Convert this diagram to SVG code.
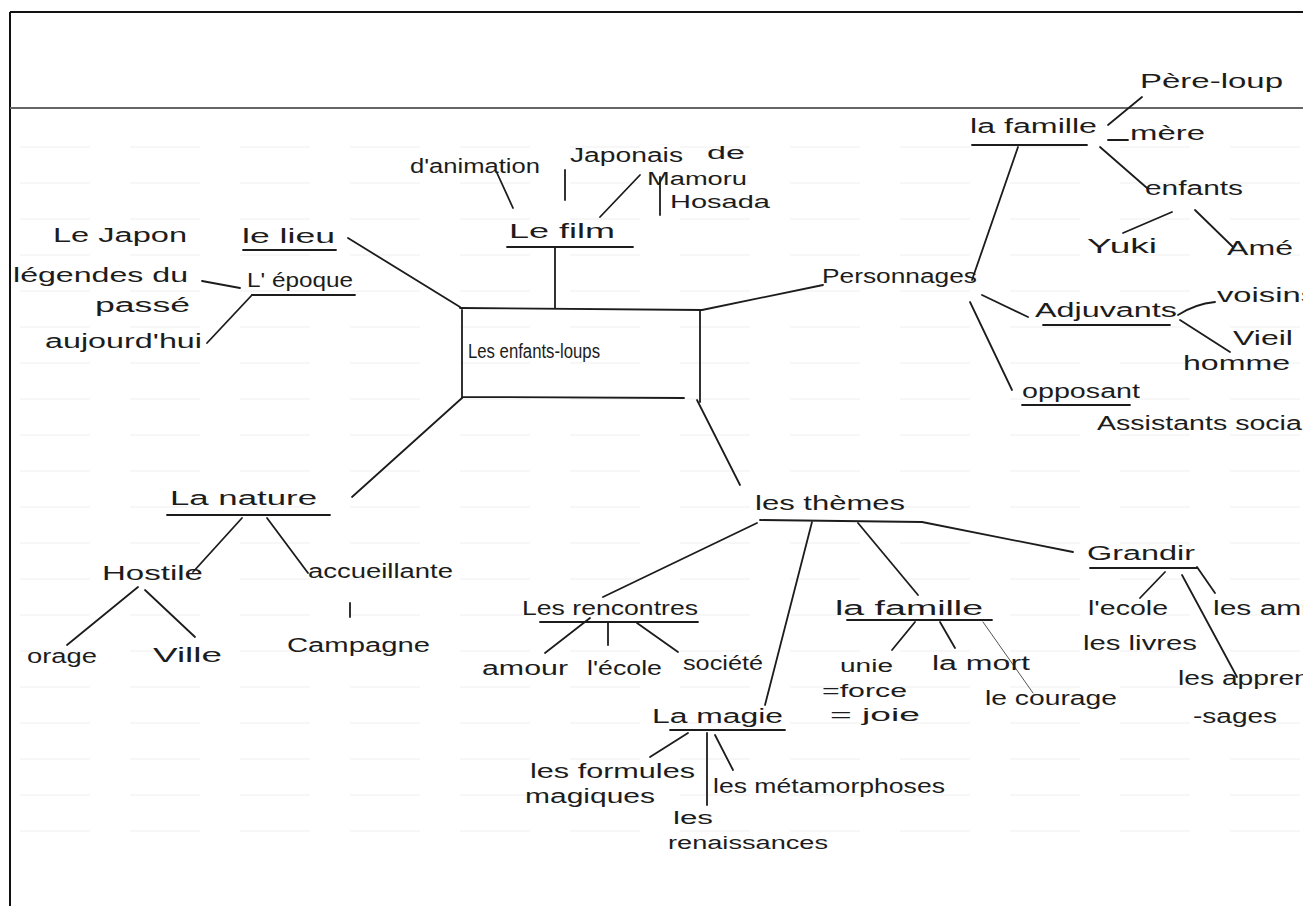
<svg xmlns="http://www.w3.org/2000/svg" width="1303" height="906" viewBox="0 0 1303 906">
<style>
.t{font-family:"Liberation Sans","DejaVu Sans",sans-serif;font-size:20px;fill:#1c1c1c}
.s{font-size:18px}
.ln{stroke:#1c1c1c;stroke-width:1.8;fill:none;stroke-linecap:round}
.thin{stroke:#555;stroke-width:1;fill:none}
.rule{stroke:#f0f0f0;stroke-width:1.2;stroke-dasharray:70 40}
</style>
<rect width="1303" height="906" fill="#fff"/>
<g id="paper">
<g class="rule">
<line x1="20" y1="147" x2="1303" y2="147"/><line x1="20" y1="183" x2="1303" y2="183"/><line x1="20" y1="219" x2="1303" y2="219"/><line x1="20" y1="255" x2="1303" y2="255"/><line x1="20" y1="291" x2="1303" y2="291"/><line x1="20" y1="327" x2="1303" y2="327"/><line x1="20" y1="363" x2="1303" y2="363"/><line x1="20" y1="399" x2="1303" y2="399"/><line x1="20" y1="435" x2="1303" y2="435"/><line x1="20" y1="471" x2="1303" y2="471"/><line x1="20" y1="507" x2="1303" y2="507"/><line x1="20" y1="543" x2="1303" y2="543"/><line x1="20" y1="579" x2="1303" y2="579"/><line x1="20" y1="615" x2="1303" y2="615"/><line x1="20" y1="651" x2="1303" y2="651"/><line x1="20" y1="687" x2="1303" y2="687"/><line x1="20" y1="723" x2="1303" y2="723"/><line x1="20" y1="759" x2="1303" y2="759"/><line x1="20" y1="795" x2="1303" y2="795"/><line x1="20" y1="831" x2="1303" y2="831"/>
</g>
<line x1="10" y1="12" x2="1303" y2="12" stroke="#111" stroke-width="2"/>
<line x1="10" y1="12" x2="10" y2="906" stroke="#111" stroke-width="2"/>
<line x1="10" y1="108" x2="1303" y2="108" stroke="#666" stroke-width="2"/>
</g>
<g id="connectors" class="ln">
<line x1="555" y1="308" x2="555" y2="248"/>
<line x1="497" y1="173" x2="513" y2="208"/>
<line x1="565" y1="170" x2="565" y2="200"/>
<line x1="640" y1="175" x2="600" y2="217"/>
<line x1="660" y1="177" x2="660" y2="215"/>
<line x1="348" y1="238" x2="460" y2="307"/>
<line x1="202" y1="281" x2="240" y2="288"/>
<line x1="207" y1="343" x2="252" y2="295"/>
<line x1="702" y1="310" x2="823" y2="285"/>
<line x1="972" y1="280" x2="1018" y2="147"/>
<line x1="1108" y1="125" x2="1142" y2="97"/>
<line x1="1108" y1="140" x2="1128" y2="140"/>
<line x1="1100" y1="147" x2="1147" y2="188"/>
<line x1="1172" y1="212" x2="1123" y2="233"/>
<line x1="1195" y1="210" x2="1233" y2="247"/>
<line x1="982" y1="295" x2="1028" y2="317"/>
<path d="M1178 315 Q1195 304 1215 302"/>
<line x1="1180" y1="320" x2="1230" y2="352"/>
<line x1="970" y1="302" x2="1012" y2="390"/>
<line x1="462" y1="398" x2="352" y2="497"/>
<line x1="242" y1="518" x2="193" y2="572"/>
<line x1="267" y1="518" x2="308" y2="573"/>
<line x1="350" y1="603" x2="350" y2="617"/>
<line x1="138" y1="587" x2="67" y2="645"/>
<line x1="145" y1="590" x2="195" y2="637"/>
<line x1="697" y1="400" x2="740" y2="485"/>
<line x1="757" y1="523" x2="603" y2="597"/>
<line x1="590" y1="618" x2="545" y2="653"/>
<line x1="608" y1="622" x2="608" y2="645"/>
<line x1="637" y1="623" x2="678" y2="652"/>
<line x1="812" y1="522" x2="765" y2="705"/>
<line x1="858" y1="523" x2="918" y2="595"/>
<line x1="922" y1="522" x2="1073" y2="552"/>
<line x1="688" y1="733" x2="650" y2="757"/>
<line x1="707" y1="733" x2="707" y2="805"/>
<line x1="715" y1="735" x2="733" y2="770"/>
<line x1="915" y1="622" x2="892" y2="650"/>
<line x1="940" y1="622" x2="955" y2="648"/>
<line x1="1165" y1="572" x2="1140" y2="598"/>
<line x1="1182" y1="575" x2="1237" y2="677"/>
<line x1="1197" y1="567" x2="1215" y2="593"/>
<line class="thin" x1="983" y1="622" x2="1033" y2="693"/>
</g>
<g id="n-center">
<path class="ln" d="M460 308 L702 310 M462 308 L462 398 M700 310 L700 402 M462 397 L684 398"/>
<text class="t" x="468" y="358" textLength="132" lengthAdjust="spacingAndGlyphs">Les enfants-loups</text>
</g>
<g id="n-film"><text class="t" x="509" y="238" textLength="106" lengthAdjust="spacingAndGlyphs">Le film</text><line class="ln" x1="507" y1="247" x2="633" y2="247"/></g>
<g id="n-animation"><text class="t" x="410" y="173" textLength="130" lengthAdjust="spacingAndGlyphs">d'animation</text></g>
<g id="n-japonais"><text class="t" x="570" y="162" textLength="113" lengthAdjust="spacingAndGlyphs">Japonais</text></g>
<g id="n-hosada">
<text class="t s" x="707" y="159" textLength="38" lengthAdjust="spacingAndGlyphs">de</text>
<text class="t s" x="647" y="185" textLength="100" lengthAdjust="spacingAndGlyphs">Mamoru</text>
<text class="t s" x="670" y="208" textLength="100" lengthAdjust="spacingAndGlyphs">Hosada</text>
</g>
<g id="n-lieu"><text class="t" x="242" y="243" textLength="93" lengthAdjust="spacingAndGlyphs">le lieu</text><line class="ln" x1="243" y1="250" x2="336" y2="250"/></g>
<g id="n-epoque"><text class="t" x="247" y="287" textLength="106" lengthAdjust="spacingAndGlyphs">L' époque</text><line class="ln" x1="252" y1="295" x2="355" y2="295"/></g>
<g id="n-japon"><text class="t" x="53" y="242" textLength="134" lengthAdjust="spacingAndGlyphs">Le Japon</text></g>
<g id="n-legendes">
<text class="t" x="13" y="282" textLength="175" lengthAdjust="spacingAndGlyphs">légendes du</text>
<text class="t" x="95" y="312" textLength="95" lengthAdjust="spacingAndGlyphs">passé</text>
</g>
<g id="n-aujourdhui"><text class="t" x="45" y="348" textLength="157" lengthAdjust="spacingAndGlyphs">aujourd'hui</text></g>
<g id="n-personnages"><text class="t" x="822" y="283" textLength="155" lengthAdjust="spacingAndGlyphs">Personnages</text></g>
<g id="n-famille1"><text class="t" x="970" y="133" textLength="127" lengthAdjust="spacingAndGlyphs">la famille</text><line class="ln" x1="972" y1="145" x2="1087" y2="145"/></g>
<g id="n-pere"><text class="t" x="1140" y="88" textLength="143" lengthAdjust="spacingAndGlyphs">Père-loup</text></g>
<g id="n-mere"><text class="t" x="1130" y="140" textLength="75" lengthAdjust="spacingAndGlyphs">mère</text></g>
<g id="n-enfants"><text class="t" x="1145" y="195" textLength="98" lengthAdjust="spacingAndGlyphs">enfants</text></g>
<g id="n-yuki"><text class="t" x="1087" y="253" textLength="70" lengthAdjust="spacingAndGlyphs">Yuki</text></g>
<g id="n-ame"><text class="t" x="1227" y="255" textLength="66" lengthAdjust="spacingAndGlyphs">Amé</text></g>
<g id="n-adjuvants"><text class="t" x="1035" y="317" textLength="142" lengthAdjust="spacingAndGlyphs">Adjuvants</text><line class="ln" x1="1043" y1="325" x2="1170" y2="325"/></g>
<g id="n-voisins"><text class="t" x="1217" y="302" textLength="100" lengthAdjust="spacingAndGlyphs">voisins</text></g>
<g id="n-vieil">
<text class="t" x="1233" y="345" textLength="60" lengthAdjust="spacingAndGlyphs">Vieil</text>
<text class="t" x="1183" y="370" textLength="107" lengthAdjust="spacingAndGlyphs">homme</text>
</g>
<g id="n-opposant"><text class="t" x="1022" y="398" textLength="118" lengthAdjust="spacingAndGlyphs">opposant</text><line class="ln" x1="1022" y1="405" x2="1130" y2="405"/></g>
<g id="n-assistants"><text class="t" x="1097" y="430" textLength="235" lengthAdjust="spacingAndGlyphs">Assistants sociaux</text></g>
<g id="n-nature"><text class="t" x="170" y="505" textLength="147" lengthAdjust="spacingAndGlyphs">La nature</text><line class="ln" x1="167" y1="515" x2="330" y2="515"/></g>
<g id="n-hostile"><text class="t" x="102" y="580" textLength="101" lengthAdjust="spacingAndGlyphs">Hostile</text></g>
<g id="n-accueillante"><text class="t" x="308" y="578" textLength="145" lengthAdjust="spacingAndGlyphs">accueillante</text></g>
<g id="n-campagne"><text class="t" x="287" y="652" textLength="143" lengthAdjust="spacingAndGlyphs">Campagne</text></g>
<g id="n-orage"><text class="t" x="27" y="663" textLength="70" lengthAdjust="spacingAndGlyphs">orage</text></g>
<g id="n-ville"><text class="t" x="153" y="662" textLength="69" lengthAdjust="spacingAndGlyphs">Ville</text></g>
<g id="n-themes"><text class="t" x="755" y="510" textLength="150" lengthAdjust="spacingAndGlyphs">les thèmes</text><line class="ln" x1="760" y1="520" x2="922" y2="522"/></g>
<g id="n-rencontres"><text class="t" x="522" y="615" textLength="176" lengthAdjust="spacingAndGlyphs">Les rencontres</text><line class="ln" x1="540" y1="622" x2="698" y2="622"/></g>
<g id="n-amour"><text class="t" x="482" y="675" textLength="86" lengthAdjust="spacingAndGlyphs">amour</text></g>
<g id="n-ecole1"><text class="t" x="587" y="675" textLength="75" lengthAdjust="spacingAndGlyphs">l'école</text></g>
<g id="n-societe"><text class="t" x="683" y="670" textLength="80" lengthAdjust="spacingAndGlyphs">société</text></g>
<g id="n-magie"><text class="t" x="652" y="723" textLength="131" lengthAdjust="spacingAndGlyphs">La magie</text><line class="ln" x1="670" y1="730" x2="785" y2="730"/></g>
<g id="n-formules">
<text class="t" x="530" y="778" textLength="165" lengthAdjust="spacingAndGlyphs">les formules</text>
<text class="t" x="525" y="803" textLength="130" lengthAdjust="spacingAndGlyphs">magiques</text>
</g>
<g id="n-metamorphoses"><text class="t" x="713" y="793" textLength="232" lengthAdjust="spacingAndGlyphs">les métamorphoses</text></g>
<g id="n-renaissances">
<text class="t s" x="673" y="824" textLength="40" lengthAdjust="spacingAndGlyphs">les</text>
<text class="t s" x="668" y="849" textLength="160" lengthAdjust="spacingAndGlyphs">renaissances</text>
</g>
<g id="n-famille2"><text class="t" x="835" y="615" textLength="148" lengthAdjust="spacingAndGlyphs">la famille</text><line class="ln" x1="847" y1="620" x2="992" y2="620"/></g>
<g id="n-unie">
<text class="t s" x="840" y="672" textLength="53" lengthAdjust="spacingAndGlyphs">unie</text>
<text class="t s" x="822" y="697" textLength="85" lengthAdjust="spacingAndGlyphs">=force</text>
<text class="t s" x="830" y="721" textLength="90" lengthAdjust="spacingAndGlyphs">= joie</text>
</g>
<g id="n-mort"><text class="t" x="932" y="670" textLength="98" lengthAdjust="spacingAndGlyphs">la mort</text></g>
<g id="n-courage"><text class="t" x="985" y="705" textLength="132" lengthAdjust="spacingAndGlyphs">le courage</text></g>
<g id="n-grandir"><text class="t" x="1087" y="560" textLength="108" lengthAdjust="spacingAndGlyphs">Grandir</text><line class="ln" x1="1090" y1="568" x2="1197" y2="568"/></g>
<g id="n-ecole2"><text class="t" x="1088" y="615" textLength="80" lengthAdjust="spacingAndGlyphs">l'ecole</text></g>
<g id="n-livres"><text class="t" x="1083" y="650" textLength="114" lengthAdjust="spacingAndGlyphs">les livres</text></g>
<g id="n-amis"><text class="t" x="1213" y="615" textLength="110" lengthAdjust="spacingAndGlyphs">les amis</text></g>
<g id="n-apprentissages">
<text class="t" x="1178" y="685" textLength="160" lengthAdjust="spacingAndGlyphs">les apprentis</text>
<text class="t" x="1193" y="723" textLength="84" lengthAdjust="spacingAndGlyphs">-sages</text>
</g>
</svg>
